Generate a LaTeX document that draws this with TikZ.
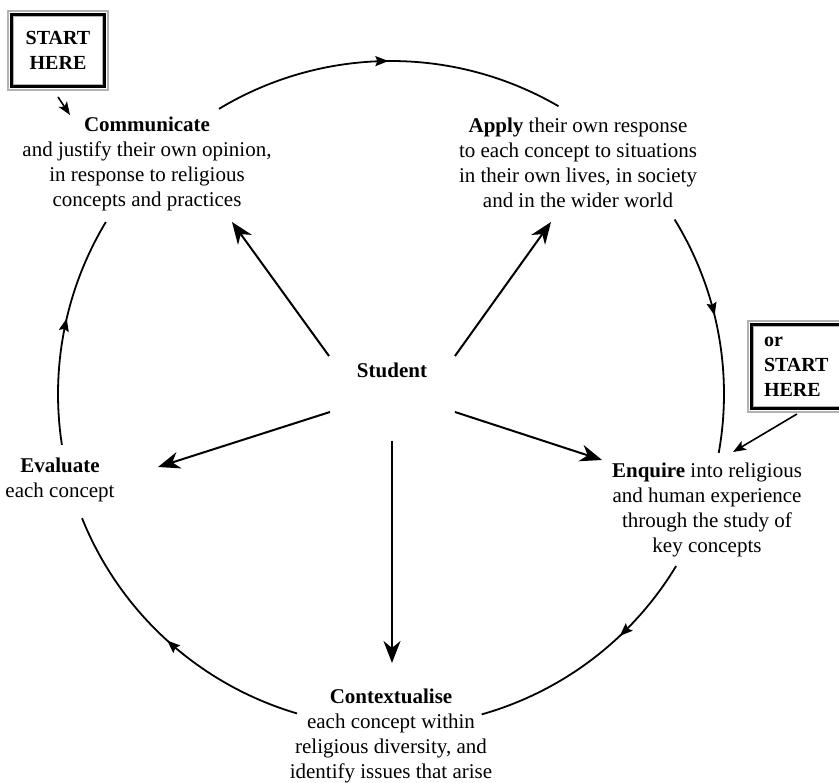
\documentclass[tikz,border=0pt]{standalone}
\usepackage{fontspec}
\setmainfont{Liberation Serif}
\usetikzlibrary{arrows.meta,decorations.markings,calc}
\newcommand\myframe[1]{%
  \draw[gray!60, line width=2pt] ([shift={(1,1)}]#1.south west) rectangle ([shift={(-1,-1)}]#1.north east);
  \draw[black, line width=3.4pt] ([shift={(4.7,4.7)}]#1.south west) rectangle ([shift={(-4.7,-4.7)}]#1.north east);
  \draw[gray!60, line width=1.3pt] ([shift={(7,7)}]#1.south west) rectangle ([shift={(-7,-7)}]#1.north east);}
\tikzset{
  txt/.style={align=center, inner sep=0pt, font=\fontsize{21}{25}\selectfont},
  boxtxt/.style={inner sep=0pt, font=\fontsize{20}{25}\selectfont\bfseries},
  spoke/.style={line width=2pt, -{Stealth[length=22pt,width=17pt,inset=7pt]}},
  boxarrow/.style={line width=1.6pt, -{Stealth[length=13pt,width=10pt,inset=3pt]}},
  cyc/.style={line width=1.8pt},
  midarrow/.style={postaction={decorate, decoration={markings,
     mark=at position #1 with {\arrow{Stealth[length=13pt,width=10pt,inset=2pt]}}}}}
}
\begin{document}
\begin{tikzpicture}[x=1pt,y=1pt]
\useasboundingbox (0,0) rectangle (839,783);
\clip (0,0) rectangle (839,783);
\fill[white] (0,0) rectangle (839,783);

\coordinate (O) at (391,389);

% text nodes
\node[txt] (stu) at (392,413) {\textbf{Student}};
\node[txt] (comm) at (147,619) {\textbf{Communicate}\\and justify their own opinion,\\in response to religious\\concepts and practices};
\node[txt] (apply) at (578,620) {\textbf{Apply} their own response\\to each concept to situations\\in their own lives, in society\\and in the wider world};
\node[txt] (enq) at (707,273) {\textbf{Enquire} into religious\\and human experience\\through the study of\\key concepts};
\node[txt] (eval) at (60,303) {\textbf{Evaluate}\\each concept};
\node[txt] (ctx) at (391,47.5) {\textbf{Contextualise}\\each concept within\\religious diversity, and\\identify issues that arise};

% start boxes
\node[boxtxt, align=center, minimum width=102pt, minimum height=81pt] (b1) at (58,732.5) {START\\HERE};
\myframe{b1}
\node[boxtxt, align=left, text width=71pt, inner xsep=17pt, minimum height=93pt] (b2) at (799.5,416.5) {or\\START\\HERE};
\myframe{b2}

% spoke endpoints
\coordinate (s1) at (329,427);  \coordinate (t1) at (232,561);
\coordinate (s2) at (455,427);  \coordinate (t2) at (551,561);
\coordinate (s3) at (330,371);  \coordinate (t3) at (158,316);
\coordinate (s4) at (455,371);  \coordinate (t4) at (602,323);
\coordinate (s5) at (392,342);  \coordinate (t5) at (392,120);
\draw[spoke] (s1) -- (t1);
\draw[spoke] (s2) -- (t2);
\draw[spoke] (s3) -- (t3);
\draw[spoke] (s4) -- (t4);
\draw[spoke] (s5) -- (t5);

% box arrows
\coordinate (b1s) at (58,686);  \coordinate (b1t) at (70,668);
\coordinate (b2s) at (797,369); \coordinate (b2t) at (733,331);
\draw[boxarrow] (b1s) -- (b1t);
\draw[boxarrow] (b2s) -- (b2t);

% cycle arcs
\coordinate (a1) at ($(O)+(121.1:333)$);
\coordinate (a2) at ($(O)+(31.6:333)$);
\coordinate (a3) at ($(O)+(-31.1:333)$);
\coordinate (a4) at ($(O)+(-106.4:333)$);
\coordinate (a5) at ($(O)+(188.8:333)$);
\draw[cyc, midarrow=0.5] (a1) arc[start angle=121.1, end angle=59.8, radius=333];
\draw[cyc, midarrow=0.43] (a2) arc[start angle=31.6, end angle=-10.2, radius=333];
\draw[cyc, midarrow=0.36] (a3) arc[start angle=-31.1, end angle=-74.2, radius=333];
\draw[cyc, midarrow=0.5] (a4) arc[start angle=-106.4, end angle=-158.1, radius=333];
\draw[cyc, midarrow=0.55] (a5) arc[start angle=188.8, end angle=148.9, radius=333];
\end{tikzpicture}
\end{document}
